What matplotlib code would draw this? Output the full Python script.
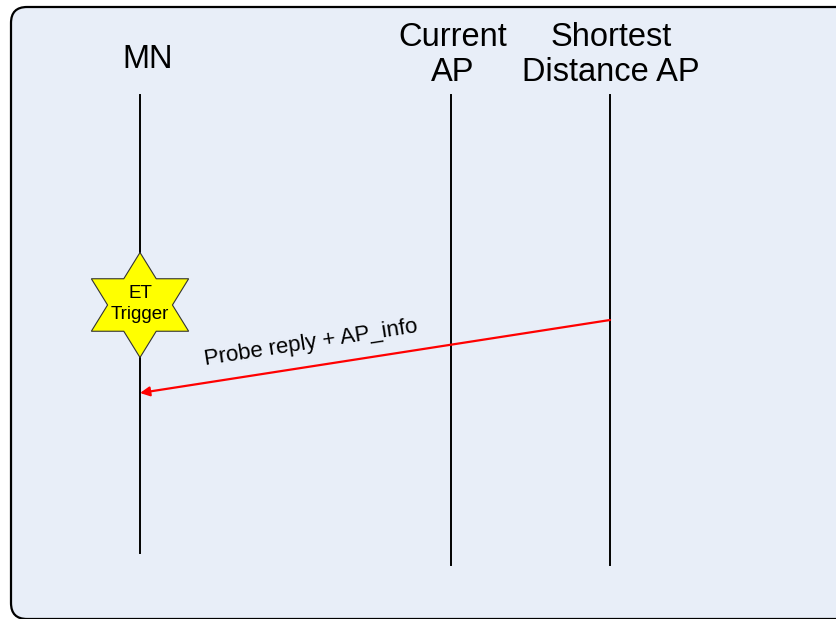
import numpy as np
import matplotlib
matplotlib.use("Agg")
from matplotlib import pyplot as plt
from matplotlib.patches import FancyBboxPatch, Polygon

plt.rcParams['font.family'] = ['Liberation Sans', 'DejaVu Sans']

# lifelines: label, line x, label x, label y, line bottom
names = ["MN", "Current\nAP", "Shortest\nDistance AP"]
line_x = [140, 451, 610]
label_x = [148, 453, 611]
label_y = [60, 55, 55]
line_top = 95
line_bottom = [553, 565, 565]

# message
msg_text = "Probe reply + AP_info"
msg_from = (610, 320)
msg_to = (140, 393)

# trigger star
star_text = "ET\nTrigger"
star_center = (140, 305)
star_r = 52.5

W, H = 836, 619
fig = plt.figure(figsize=(W / 100, H / 100), dpi=100)
ax = fig.add_axes([0, 0, 1, 1])
ax.set_xlim(0, W)
ax.set_ylim(H, 0)
ax.axis("off")

box = FancyBboxPatch((11, 7), 860, 612, boxstyle="round,pad=0,rounding_size=16",
                     facecolor="#e8eef8", edgecolor="black", linewidth=1.6)
ax.add_patch(box)

for i in range(len(names)):
    ax.plot([line_x[i], line_x[i]], [line_top, line_bottom[i]], color="black", lw=1.4)
    ax.text(label_x[i], label_y[i], names[i], ha="center", va="center",
            fontsize=23.5, linespacing=1.15)

# star (hexagram, point up), a bit wider than regular
ang = np.deg2rad(np.arange(12) * 30 - 90)
rad = np.where(np.arange(12) % 2 == 0, star_r, star_r / np.sqrt(3))
pts = np.column_stack([star_center[0] + 1.07 * rad * np.cos(ang),
                       star_center[1] + rad * np.sin(ang)])
ax.add_patch(Polygon(pts, closed=True, facecolor="#ffff00", edgecolor="#333333", lw=0.8, zorder=3))
ax.text(star_center[0], star_center[1] - 1, star_text, ha="center", va="center",
        fontsize=13.5, linespacing=1.3, zorder=4)

ax.annotate("", xy=msg_to, xytext=msg_from,
            arrowprops=dict(arrowstyle="-|>", color="#ff0000", lw=1.6,
                            mutation_scale=14, shrinkA=0, shrinkB=0))
dx = msg_from[0] - msg_to[0]
dy = msg_to[1] - msg_from[1]
angle = np.degrees(np.arctan2(dy, dx))
ax.text(311, 343, msg_text, ha="center", va="center", fontsize=16,
        rotation=angle, rotation_mode="anchor")

fig.savefig("out.png", dpi=100)
